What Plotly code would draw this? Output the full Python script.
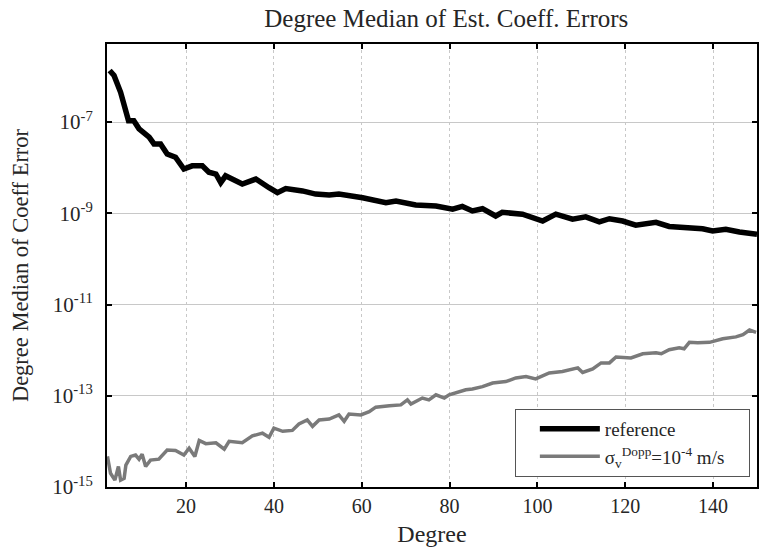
import plotly.graph_objects as go

# Reference series (black): degree and log10 of median coefficient error
ref_deg = [2.6, 3.6, 5.1, 6.3, 6.9, 8.1, 9.3, 11.6, 12.7, 14.2, 15.7, 17.6, 19.5, 21.4, 23.7,
           25.2, 26.8, 27.9, 29.0, 32.8, 35.9, 38.9, 40.8, 42.7, 46.5, 49.5, 52.6, 54.8, 60.2,
           65.5, 67.8, 72.3, 76.9, 80.7, 82.9, 85.2, 87.5, 90.5, 92.0, 96.6, 101.2, 104.2,
           108.0, 111.0, 114.1, 116.4, 119.4, 122.4, 127.0, 130.0, 135.3, 137.6, 139.9, 142.9,
           146.0, 150.0]
ref_log = [-5.87, -5.98, -6.35, -6.71, -6.97, -6.97, -7.15, -7.33, -7.48, -7.48, -7.70, -7.77,
           -8.03, -7.96, -7.96, -8.10, -8.14, -8.33, -8.18, -8.36, -8.25, -8.44, -8.55, -8.46,
           -8.51, -8.58, -8.60, -8.58, -8.66, -8.77, -8.73, -8.82, -8.84, -8.91, -8.85, -8.95,
           -8.90, -9.06, -8.98, -9.02, -9.17, -9.02, -9.13, -9.08, -9.19, -9.12, -9.17, -9.26,
           -9.20, -9.29, -9.32, -9.34, -9.39, -9.35, -9.41, -9.46]

# Doppler noise series (gray)
dop_deg = [2.1, 2.8, 3.8, 4.6, 5.1, 5.9, 6.3, 7.4, 8.5, 9.3, 10.0, 10.8, 11.9, 13.8, 15.7, 17.6,
           19.5, 20.7, 22.0, 23.0, 24.5, 26.8, 28.7, 29.8, 32.8, 35.1, 37.4, 38.9, 40.0, 42.0,
           44.2, 45.7, 47.6, 48.8, 50.3, 52.6, 54.8, 56.0, 57.1, 59.8, 61.7, 63.2, 66.3, 68.9,
           70.4, 71.2, 73.8, 75.3, 76.9, 78.8, 79.9, 83.7, 85.2, 87.5, 89.8, 92.8, 95.1, 97.4,
           99.6, 102.7, 105.7, 108.0, 109.2, 110.3, 112.6, 114.5, 116.4, 117.9, 121.3, 124.0,
           127.0, 128.2, 130.0, 132.3, 133.4, 134.6, 136.5, 139.2, 142.2, 145.2, 146.8, 148.3,
           149.8]
dop_log = [-14.33, -14.70, -14.85, -14.55, -14.85, -14.81, -14.52, -14.33, -14.30, -14.39,
           -14.28, -14.55, -14.41, -14.39, -14.19, -14.20, -14.30, -14.15, -14.33, -13.98,
           -14.05, -14.03, -14.17, -14.00, -14.03, -13.88, -13.82, -13.91, -13.71, -13.78,
           -13.76, -13.62, -13.53, -13.67, -13.53, -13.51, -13.42, -13.56, -13.40, -13.42,
           -13.35, -13.25, -13.22, -13.20, -13.09, -13.18, -13.05, -13.09, -12.98, -13.05,
           -12.98, -12.87, -12.85, -12.80, -12.72, -12.69, -12.61, -12.58, -12.63, -12.50,
           -12.47, -12.43, -12.39, -12.49, -12.41, -12.28, -12.28, -12.15, -12.17, -12.08,
           -12.06, -12.08, -11.99, -11.95, -11.97, -11.83, -11.84, -11.83, -11.75, -11.71,
           -11.66, -11.56, -11.61]

x_ticks = [20, 40, 60, 80, 100, 120, 140]
y_tick_exps = [-7, -9, -11, -13, -15]
y_tick_text = ["10<sup>%d</sup>" % e for e in y_tick_exps]

FONT = "Liberation Serif"
TXT = "#262626"

fig = go.Figure()
fig.add_trace(go.Scatter(x=ref_deg, y=[10 ** v for v in ref_log], mode="lines",
                         name="reference", line=dict(color="black", width=5.5)))
fig.add_trace(go.Scatter(x=dop_deg, y=[10 ** v for v in dop_log], mode="lines",
                         name="σ<sub>v</sub><sup>Dopp</sup>=10<sup>-4</sup> m/s&nbsp;&nbsp;&nbsp;&nbsp;",
                         line=dict(color="#7a7a7a", width=3.5)))

fig.update_layout(
    width=759, height=548,
    margin=dict(l=107, r=2, t=44, b=61),
    paper_bgcolor="white", plot_bgcolor="white",
    font=dict(family=FONT, color=TXT, size=18),
    title=dict(text="Degree Median of Est. Coeff. Errors", x=0.588, xanchor="center",
               y=0.966, yanchor="middle", font=dict(family=FONT, size=25, color=TXT)),
    showlegend=True,
    legend=dict(x=0.989, y=0.023, xanchor="right", yanchor="bottom",
                bgcolor="white", bordercolor="#555555", borderwidth=1,
                font=dict(family=FONT, size=19, color=TXT),
                itemwidth=60, indentation=19, tracegroupgap=2),
)
fig.update_xaxes(
    range=[2, 150], tickvals=x_ticks, automargin=False,
    showgrid=True, gridcolor="#c8c8c8", griddash="dot", gridwidth=1,
    showline=True, linecolor="black", linewidth=2, mirror="ticks",
    ticks="inside", ticklen=5, tickcolor="black", tickwidth=1.5,
    zeroline=False, ticklabelstandoff=0,
    title=dict(text="Degree", font=dict(family=FONT, size=24, color=TXT), standoff=9),
    tickfont=dict(family=FONT, size=20, color=TXT),
)
fig.update_yaxes(
    type="log", range=[-15, -5.29], automargin=False,
    tickvals=[10 ** e for e in y_tick_exps], ticktext=y_tick_text,
    showgrid=True, gridcolor="#c8c8c8", gridwidth=1,
    showline=True, linecolor="black", linewidth=2, mirror="ticks",
    ticks="inside", ticklen=5, tickcolor="black", tickwidth=1.5,
    zeroline=False, ticklabelstandoff=8,
    title=dict(text="Degree Median of Coeff Error", font=dict(family=FONT, size=22.5, color=TXT),
               standoff=17),
    tickfont=dict(family=FONT, size=21, color=TXT),
)

fig.write_html("out.html", config={"displayModeBar": False},
               post_script="document.body.style.margin='0px';")
